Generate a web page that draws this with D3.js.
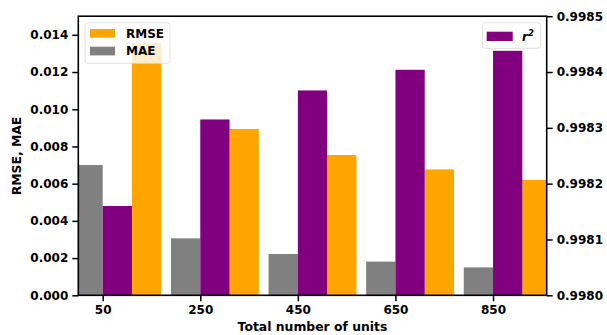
<!DOCTYPE html>
<html><head><meta charset="utf-8">
<script src="https://cdn.jsdelivr.net/npm/d3@7"></script>
<style>body{margin:0;background:#fff}svg{display:block;font-family:"DejaVu Sans",sans-serif;font-weight:bold}</style>
</head><body><svg id="c" width="607" height="335"></svg>
<script>
const categories = [50, 250, 450, 650, 850];
const maeValues = [0.00700, 0.00306, 0.00222, 0.00181, 0.00150];
const rmseValues = [0.01356, 0.00894, 0.00754, 0.00677, 0.00620];
const r2Values = [0.998160, 0.998315, 0.998367, 0.998404, 0.998438];
const leftTicks = [0, 0.002, 0.004, 0.006, 0.008, 0.010, 0.012, 0.014];
const rightTicks = [0.9980, 0.9981, 0.9982, 0.9983, 0.9984, 0.9985];
const barWidth = 60;

const svg = d3.select("#c");
const L = 78.3, R = 546.7, T = 16.2, B = 295.3;
const x = d3.scaleLinear().domain([0, 960]).range([L, R]);
const yL = d3.scaleLinear().domain([0, 0.015]).range([B, T]);
const yR = d3.scaleLinear().domain([0.9980, 0.9985]).range([B, T]);

svg.append("defs").append("clipPath").attr("id", "clip")
  .append("rect").attr("x", L).attr("y", T).attr("width", R - L).attr("height", B - T);

const g = svg.append("g").attr("clip-path", "url(#clip)");
const bw = x(barWidth) - x(0);
g.selectAll(".mae").data(categories).join("rect")
  .attr("x", (d) => x(d - barWidth)).attr("width", bw)
  .attr("y", (d, i) => yL(maeValues[i])).attr("height", (d, i) => B - yL(maeValues[i]))
  .attr("fill", "#808080");
g.selectAll(".rmse").data(categories).join("rect")
  .attr("x", (d) => x(d + barWidth)).attr("width", bw)
  .attr("y", (d, i) => yL(rmseValues[i])).attr("height", (d, i) => B - yL(rmseValues[i]))
  .attr("fill", "#FFA500");

// left legend
const lg = svg.append("g");
lg.append("rect").attr("x", 85).attr("y", 22.7).attr("width", 85).attr("height", 40.6)
  .attr("rx", 3).attr("fill", "#fff").attr("fill-opacity", 0.8).attr("stroke", "#d9d9d9").attr("stroke-width", 0.8);
[["RMSE", "#FFA500", 29], ["MAE", "#808080", 46.7]].forEach(([t, c, yy]) => {
  lg.append("rect").attr("x", 90).attr("y", yy).attr("width", 25).attr("height", 8.7).attr("fill", c);
  lg.append("text").attr("x", 126).attr("y", yy + 8.5).attr("font-size", 12).attr("fill", "#000").text(t);
});

const g2 = svg.append("g").attr("clip-path", "url(#clip)");
g2.selectAll(".r2").data(categories).join("rect")
  .attr("x", (d) => x(d)).attr("width", bw)
  .attr("y", (d, i) => yR(r2Values[i])).attr("height", (d, i) => B - yR(r2Values[i]))
  .attr("fill", "#800080");

// right legend
const rg = svg.append("g");
rg.append("rect").attr("x", 482.3).attr("y", 22.7).attr("width", 58.4).attr("height", 25.6)
  .attr("rx", 3).attr("fill", "#fff").attr("fill-opacity", 0.8).attr("stroke", "#d9d9d9").attr("stroke-width", 0.8);
rg.append("rect").attr("x", 486.7).attr("y", 31.7).attr("width", 26).attr("height", 9.3).attr("fill", "#800080");
const rt = rg.append("text").attr("x", 522).attr("y", 41).attr("font-size", 12).attr("font-style", "italic").attr("fill", "#000");
rt.append("tspan").text("r");
rt.append("tspan").attr("dy", -5).attr("font-size", 8.5).text("2");

// axes
function styleAxis(sel) {
  sel.selectAll("text").attr("font-size", 12).attr("font-weight", "bold").attr("font-family", "DejaVu Sans").attr("fill", "#000");
  sel.selectAll("line").attr("stroke-width", 1.5).attr("stroke", "#000");
  sel.select(".domain").remove();
}
svg.append("g").attr("transform", `translate(0,${B})`)
  .call(d3.axisBottom(x).tickValues(categories).tickSize(6).tickPadding(4).tickFormat(d3.format("d")))
  .call(styleAxis);
svg.append("g").attr("transform", `translate(${L},0)`)
  .call(d3.axisLeft(yL).tickValues(leftTicks).tickSize(6).tickPadding(4).tickFormat(d3.format(".3f")))
  .call(styleAxis);
svg.append("g").attr("transform", `translate(${R},0)`)
  .call(d3.axisRight(yR).tickValues(rightTicks).tickSize(6).tickPadding(4).tickFormat(d3.format(".4f")))
  .call(styleAxis);

svg.append("rect").attr("x", L).attr("y", T).attr("width", R - L).attr("height", B - T)
  .attr("fill", "none").attr("stroke", "#000").attr("stroke-width", 1.6);

svg.append("text").attr("x", (L + R) / 2).attr("y", 331).attr("text-anchor", "middle")
  .attr("font-size", 12.4).text("Total number of units");
svg.append("text").attr("transform", "translate(21,156) rotate(-90)").attr("text-anchor", "middle")
  .attr("font-size", 12.4).text("RMSE, MAE");
</script></body></html>
